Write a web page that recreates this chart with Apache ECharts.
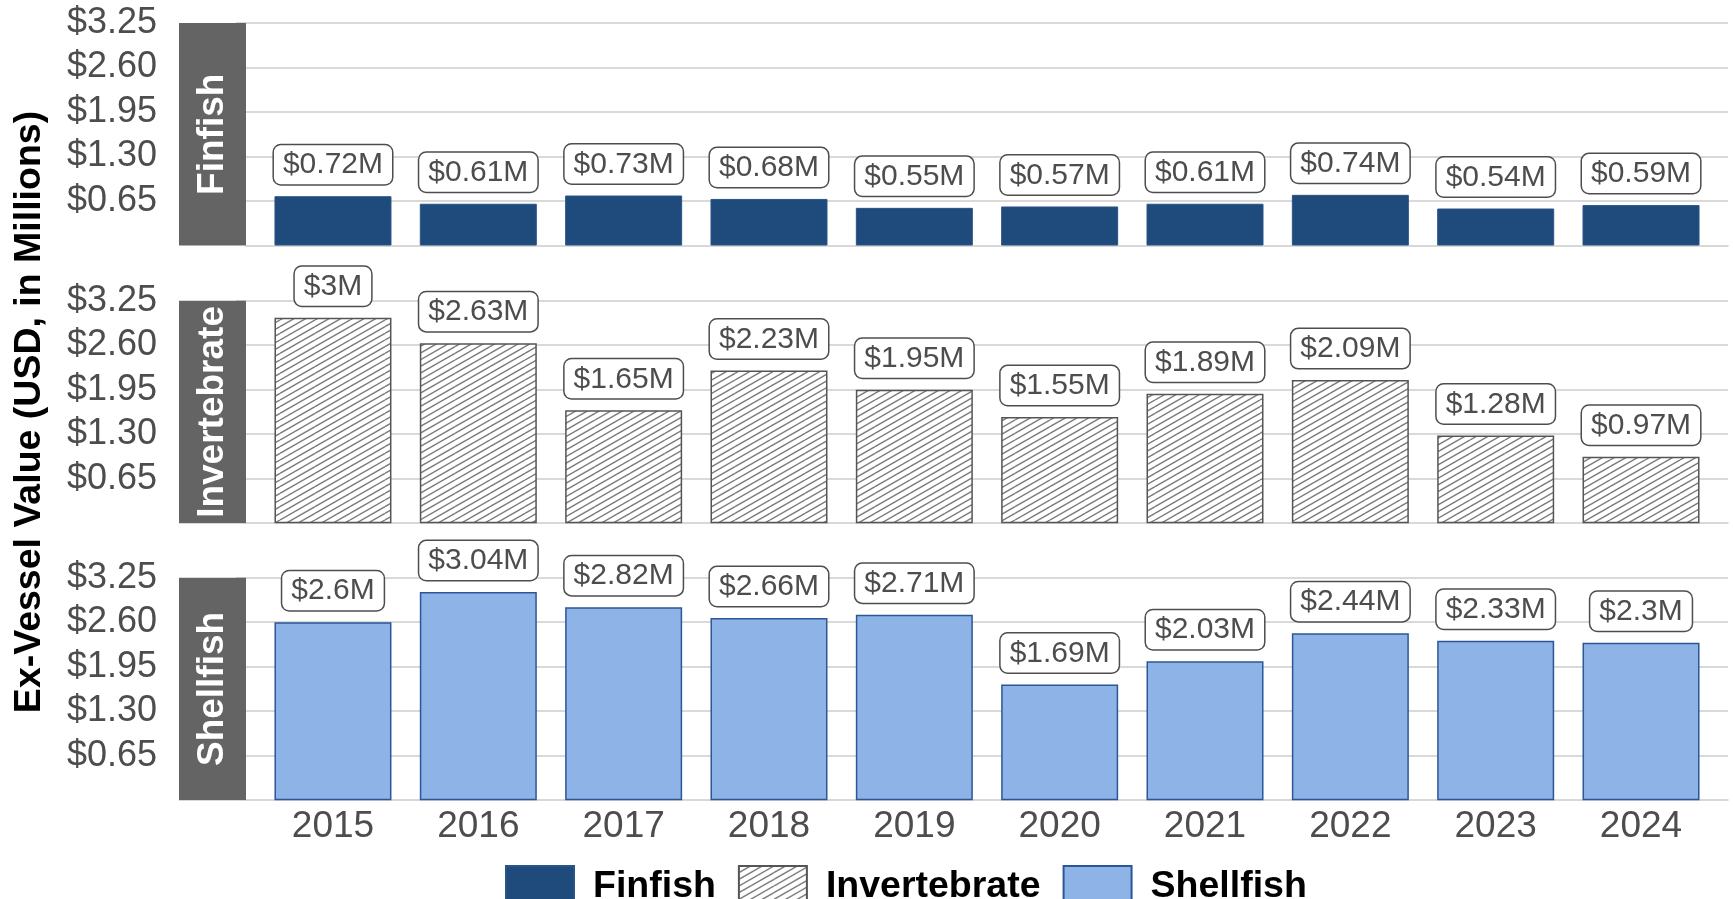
<!DOCTYPE html>
<html>
<head>
<meta charset="utf-8">
<script src="https://cdn.jsdelivr.net/npm/echarts@6/dist/echarts.min.js"></script>
<style>
  html, body { margin: 0; padding: 0; background: #fff; }
  #chart { width: 1733px; height: 899px; }
</style>
</head>
<body>
<div id="chart"></div>
<script>
const years = ['2015', '2016', '2017', '2018', '2019', '2020', '2021', '2022', '2023', '2024']
const finfish = [0.72, 0.61, 0.73, 0.68, 0.55, 0.57, 0.61, 0.74, 0.54, 0.59]
const invertebrate = [3, 2.63, 1.65, 2.23, 1.95, 1.55, 1.89, 2.09, 1.28, 0.97]
const shellfish = [2.6, 3.04, 2.82, 2.66, 2.71, 1.69, 2.03, 2.44, 2.33, 2.3]
const yTicks = [0.65, 1.3, 1.95, 2.6, 3.25]
const panelNames = ['Finfish', 'Invertebrate', 'Shellfish']

const FONT = "'Liberation Sans', Arial, sans-serif"
const panelTops = [23, 300.7, 577.7]
const panelH = 222.5

// diagonal hatch tile for the invertebrate bars
function hatchTile() {
  const c = document.createElement('canvas')
  const w = 35, h = 20
  c.width = w; c.height = h
  const g = c.getContext('2d')
  g.fillStyle = '#fff'
  g.fillRect(0, 0, w, h)
  g.strokeStyle = '#7a7a7a'
  g.lineWidth = 1.4
  for (let k = -3; k <= 3; k++) {
    const o = k * h / 3
    g.beginPath()
    g.moveTo(0, h + o)
    g.lineTo(w, o)
    g.stroke()
  }
  return c
}

const styles = [
  { color: '#1f4a7c', borderColor: '#2a5488', borderWidth: 1 },
  { color: { image: hatchTile(), repeat: 'repeat' }, borderColor: '#555', borderWidth: 1.5 },
  { color: '#8eb3e6', borderColor: '#2b5797', borderWidth: 1.5 }
]
const seriesData = [finfish, invertebrate, shellfish]

const grid = [], xAxis = [], yAxis = [], series = [], graphic = []

panelTops.forEach((top, i) => {
  // wide grid: gridlines, ticks, y labels, bottom line
  grid.push({ left: 246, right: 5, top: top, height: panelH })
  xAxis.push({
    type: 'value', gridIndex: i, min: 0, max: 1,
    axisLine: { show: true, lineStyle: { color: '#cccccc', width: 1.5 } },
    axisTick: { show: false }, axisLabel: { show: false }, splitLine: { show: false }
  })
  yAxis.push({
    type: 'value', gridIndex: i, min: 0, max: 3.25, interval: 0.65, offset: 67,
    axisLine: { show: false },
    axisTick: { show: true, length: 10, customValues: yTicks, lineStyle: { color: '#cccccc', width: 1.5 } },
    axisLabel: {
      margin: 22, fontSize: 36, color: '#4d4d4d', fontFamily: FONT,
      customValues: yTicks,
      formatter: v => '$' + v.toFixed(2)
    },
    splitLine: { show: true, lineStyle: { color: '#cccccc', width: 1.5 } }
  })
})

panelTops.forEach((top, i) => {
  // narrow grid: ggplot style padded category axis
  grid.push({ left: 260.3, right: 19.3, top: top, height: panelH })
  xAxis.push({
    type: 'category', gridIndex: 3 + i, data: years,
    axisLine: { show: false }, axisTick: { show: false },
    axisLabel: { show: i === 2, margin: 8, fontSize: 37, color: '#4d4d4d', fontFamily: FONT }
  })
  yAxis.push({
    type: 'value', gridIndex: 3 + i, min: 0, max: 3.25, show: false, splitLine: { show: false }
  })
  series.push({
    name: panelNames[i], type: 'bar', xAxisIndex: 3 + i, yAxisIndex: 3 + i,
    data: seriesData[i], barWidth: 117,
    itemStyle: styles[i],
    label: {
      show: true, position: 'top', distance: 12,
      formatter: p => '$' + p.value + 'M',
      fontSize: 30, color: '#4d4d4d', fontFamily: FONT,
      backgroundColor: '#fff', borderColor: '#4d4d4d', borderWidth: 1.5, borderRadius: 7,
      padding: [5, 9, 4, 9]
    }
  })
  // strip on the left of each panel
  graphic.push({
    type: 'rect', left: 179, top: top, shape: { width: 67, height: panelH },
    style: { fill: '#646464' }, z: 10
  })
  graphic.push({
    type: 'text', x: 212.5, y: top + panelH / 2, rotation: Math.PI / 2, z: 11,
    style: {
      text: panelNames[i], fill: '#fff', fontSize: 37, fontWeight: 'bold', fontFamily: FONT,
      align: 'center', verticalAlign: 'middle'
    }
  })
})

graphic.push({
  type: 'text', x: 30, y: 412, rotation: Math.PI / 2,
  style: {
    text: 'Ex-Vessel Value (USD, in Millions)', fill: '#000', fontSize: 37.5, fontWeight: 'bold',
    fontFamily: FONT, align: 'center', verticalAlign: 'middle'
  }
})

const chart = echarts.init(document.getElementById('chart'))
chart.setOption({
  animation: false,
  grid, xAxis, yAxis, series, graphic,
  legend: {
    data: panelNames, left: 500, top: 860, icon: 'rect',
    itemWidth: 68, itemHeight: 42, itemGap: 22,
    textStyle: { fontSize: 37.5, fontWeight: 'bold', color: '#000', fontFamily: FONT, padding: [0, 0, 0, 14] }
  }
})
</script>
</body>
</html>
